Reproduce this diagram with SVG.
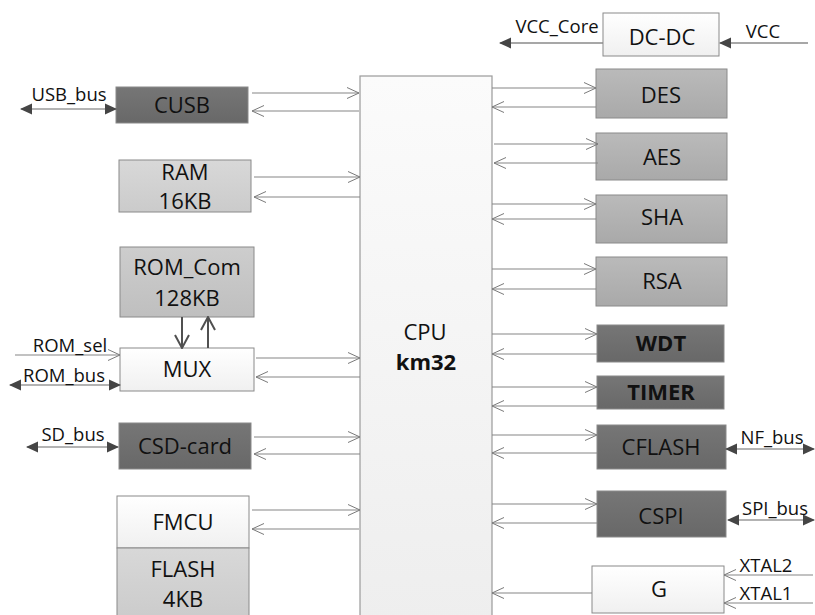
<svg xmlns="http://www.w3.org/2000/svg" width="815" height="615" viewBox="0 0 815 615">
<defs>
  <linearGradient id="gWhite" x1="0" y1="0" x2="0" y2="1"><stop offset="0" stop-color="#ffffff"/><stop offset="1" stop-color="#f0f0f0"/></linearGradient>
  <linearGradient id="gCpu" x1="0" y1="0" x2="0" y2="1"><stop offset="0" stop-color="#fbfbfb"/><stop offset="1" stop-color="#eeeeee"/></linearGradient>
  <linearGradient id="gMid" x1="0" y1="0" x2="0" y2="1"><stop offset="0" stop-color="#bababa"/><stop offset="1" stop-color="#a9a9a9"/></linearGradient>
  <linearGradient id="gLight" x1="0" y1="0" x2="0" y2="1"><stop offset="0" stop-color="#d8d8d8"/><stop offset="1" stop-color="#cbcbcb"/></linearGradient>
  <linearGradient id="gRom" x1="0" y1="0" x2="0" y2="1"><stop offset="0" stop-color="#cdcdcd"/><stop offset="1" stop-color="#bfbfbf"/></linearGradient>
  <linearGradient id="gDark" x1="0" y1="0" x2="0" y2="1"><stop offset="0" stop-color="#767676"/><stop offset="1" stop-color="#686868"/></linearGradient>
  <marker id="open" viewBox="0 0 14 14" refX="13" refY="7" markerWidth="14" markerHeight="14" markerUnits="userSpaceOnUse" orient="auto">
    <path d="M1,1.5 L13,7 L1,12.5" fill="none" stroke="#7a7a7a" stroke-width="1"/>
  </marker>
  <marker id="openBig" viewBox="0 0 16 16" refX="15" refY="8" markerWidth="16" markerHeight="16" markerUnits="userSpaceOnUse" orient="auto">
    <path d="M2,1 L15,8 L2,15" fill="none" stroke="#505050" stroke-width="2"/>
  </marker>
  <marker id="fill" viewBox="0 0 12 12" refX="11" refY="6" markerWidth="12" markerHeight="12" markerUnits="userSpaceOnUse" orient="auto">
    <path d="M0,0.5 L12,6 L0,11.5 Z" fill="#454545"/>
  </marker>
  <marker id="fillS" viewBox="0 0 12 12" refX="1" refY="6" markerWidth="12" markerHeight="12" markerUnits="userSpaceOnUse" orient="auto">
    <path d="M12,0.5 L0,6 L12,11.5 Z" fill="#454545"/>
  </marker>
</defs>
<style>
  .box { stroke: #8a8a8a; stroke-width: 1; }
  .t { font-family: "Open Sans", "Liberation Sans", sans-serif; font-size: 22px; fill: #111111; text-anchor: middle; }
  .b { font-weight: bold; }
  .lbl { font-family: "Open Sans", "Liberation Sans", sans-serif; font-size: 18.5px; fill: #111111; text-anchor: middle; }
  .c { stroke: #858585; stroke-width: 1; fill: none; marker-end: url(#open); }
  .bus { stroke: #9a9a9a; stroke-width: 1.3; fill: none; marker-end: url(#fill); marker-start: url(#fillS); }
  .pw { stroke: #8a8a8a; stroke-width: 1.3; fill: none; marker-end: url(#fill); }
  .mx { stroke: #505050; stroke-width: 2; fill: none; marker-end: url(#openBig); }
</style>

<g id="cpu">
  <rect x="360" y="76" width="132" height="545" fill="url(#gCpu)" stroke="#9a9a9a" stroke-width="1.2"/>
  <text class="t" x="425" y="340">CPU</text>
  <text class="t b" x="426" y="370">km32</text>
</g>

<g id="dcdc"><rect class="box" x="603" y="13" width="116" height="43" fill="url(#gWhite)"/><text class="t" x="662" y="45">DC-DC</text></g>
<g id="des"><rect class="box" x="596" y="69" width="131" height="49" fill="url(#gMid)"/><text class="t" x="661" y="103">DES</text></g>
<g id="aes"><rect class="box" x="596" y="133" width="131" height="47" fill="url(#gMid)"/><text class="t" x="662" y="165">AES</text></g>
<g id="sha"><rect class="box" x="596" y="195" width="131" height="48" fill="url(#gMid)"/><text class="t" x="662" y="225">SHA</text></g>
<g id="rsa"><rect class="box" x="596" y="257" width="131" height="49" fill="url(#gMid)"/><text class="t" x="662" y="289">RSA</text></g>
<g id="wdt"><rect class="box" x="597" y="325" width="127" height="37" fill="url(#gDark)"/><text class="t b" x="661" y="351">WDT</text></g>
<g id="timer"><rect class="box" x="597" y="376" width="127" height="33" fill="url(#gDark)"/><text class="t b" x="661" y="400">TIMER</text></g>
<g id="cflash"><rect class="box" x="597" y="425" width="129" height="44" fill="url(#gDark)"/><text class="t" x="661" y="455">CFLASH</text></g>
<g id="cspi"><rect class="box" x="597" y="491" width="129" height="46" fill="url(#gDark)"/><text class="t" x="661" y="524">CSPI</text></g>
<g id="g"><rect class="box" x="592" y="566" width="132" height="47" fill="url(#gWhite)"/><text class="t" x="659" y="597">G</text></g>

<g id="cusb"><rect class="box" x="116" y="87" width="132" height="36" fill="url(#gDark)"/><text class="t" x="182" y="113">CUSB</text></g>
<g id="ram"><rect class="box" x="119" y="160" width="132" height="52" fill="url(#gLight)"/><text class="t" x="185" y="180">RAM</text><text class="t" x="185" y="209">16KB</text></g>
<g id="romcom"><rect class="box" x="120" y="247" width="134" height="70" fill="url(#gRom)"/><text class="t" x="187" y="275">ROM_Com</text><text class="t" x="187" y="306">128KB</text></g>
<g id="mux"><rect class="box" x="120" y="348" width="134" height="43" fill="url(#gWhite)"/><text class="t" x="187" y="377">MUX</text></g>
<g id="csd"><rect class="box" x="119" y="423" width="132" height="46" fill="url(#gDark)"/><text class="t" x="185" y="454">CSD-card</text></g>
<g id="fmcu"><rect class="box" x="117" y="496" width="132" height="52" fill="url(#gWhite)"/><text class="t" x="183" y="530">FMCU</text></g>
<g id="flash"><rect class="box" x="117" y="548" width="132" height="72" fill="url(#gLight)"/><text class="t" x="183" y="577">FLASH</text><text class="t" x="183" y="607">4KB</text></g>

<g id="connectors">
  <path class="c" d="M252,93 H359"/>
  <path class="c" d="M359,111 H252"/>
  <path class="c" d="M254,177 H360"/>
  <path class="c" d="M360,197 H254"/>
  <path class="c" d="M256,358 H360"/>
  <path class="c" d="M360,377 H256"/>
  <path class="c" d="M254,437 H360"/>
  <path class="c" d="M360,454 H254"/>
  <path class="c" d="M252,510 H360"/>
  <path class="c" d="M359,529 H252"/>
  <path class="c" d="M492,88 H596"/>
  <path class="c" d="M596,107 H492"/>
  <path class="c" d="M494,144 H598"/>
  <path class="c" d="M598,163 H494"/>
  <path class="c" d="M492,204 H596"/>
  <path class="c" d="M596,219 H492"/>
  <path class="c" d="M492,269 H596"/>
  <path class="c" d="M596,289 H492"/>
  <path class="c" d="M492,334 H597"/>
  <path class="c" d="M597,354 H492"/>
  <path class="c" d="M492,387 H597"/>
  <path class="c" d="M597,406 H492"/>
  <path class="c" d="M492,435 H597"/>
  <path class="c" d="M597,453 H492"/>
  <path class="c" d="M492,504 H597"/>
  <path class="c" d="M597,523 H492"/>
  <path class="c" d="M592,593 H492"/>
  <path class="mx" d="M182,317 V348"/>
  <path class="mx" d="M208,348 V317"/>
  <path class="bus" d="M21,109 H116"/>
  <path class="c" d="M15,355 H120"/>
  <path class="bus" d="M10,385 H120"/>
  <path class="bus" d="M27,447 H118"/>
  <path class="pw" d="M603,43 H500"/>
  <path class="pw" d="M808,43 H720"/>
  <path class="bus" d="M726,449 H814"/>
  <path class="bus" d="M728,520 H814"/>
  <path class="c" d="M813,575 H724"/>
  <path class="c" d="M813,603 H724"/>
</g>

<g id="labels">
  <text class="lbl" x="69" y="101">USB_bus</text>
  <text class="lbl" x="70" y="352">ROM_sel</text>
  <text class="lbl" x="64" y="382">ROM_bus</text>
  <text class="lbl" x="73" y="441">SD_bus</text>
  <text class="lbl" x="557" y="33">VCC_Core</text>
  <text class="lbl" x="763" y="38">VCC</text>
  <text class="lbl" x="772" y="444">NF_bus</text>
  <text class="lbl" x="775" y="515">SPI_bus</text>
  <text class="lbl" x="766" y="572">XTAL2</text>
  <text class="lbl" x="766" y="600">XTAL1</text>
</g>
</svg>
